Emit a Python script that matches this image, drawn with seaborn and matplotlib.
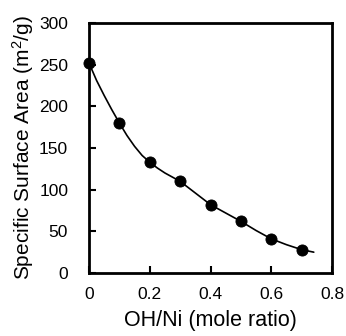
import matplotlib
matplotlib.use("Agg")
import matplotlib.pyplot as plt
import seaborn as sns
import pandas as pd

# measured points
ratio = [0.0, 0.1, 0.2, 0.3, 0.4, 0.5, 0.6, 0.7]
area = [252, 180, 133, 110, 82, 62, 41, 28]

# smooth guide curve
curve_x = [0.0, 0.025, 0.05, 0.075, 0.1, 0.125, 0.15, 0.175, 0.2, 0.225, 0.25, 0.275,
           0.3, 0.35, 0.4, 0.45, 0.5, 0.55, 0.6, 0.65, 0.7, 0.74]
curve_y = [252, 231, 213, 196, 180, 165, 152, 141, 133, 126, 120, 115,
           110, 96, 82, 72, 62, 51, 41, 34, 28, 25]

x_ticks = [0, 0.2, 0.4, 0.6, 0.8]
x_tick_labels = ["0", "0.2", "0.4", "0.6", "0.8"]
y_ticks = [0, 50, 100, 150, 200, 250, 300]

sns.set_style("ticks")
plt.rcParams['font.family'] = ['Liberation Sans', 'DejaVu Sans']
plt.rcParams['mathtext.default'] = 'regular'
plt.rcParams['text.color'] = 'black'
plt.rcParams['axes.labelcolor'] = 'black'
plt.rcParams['xtick.color'] = 'black'
plt.rcParams['ytick.color'] = 'black'

fig = plt.figure(figsize=(3.46, 3.36), dpi=100)
ax = fig.add_axes([89/346, 1 - 273/336, 243/346, 250/336])

df_pts = pd.DataFrame({"x": ratio, "y": area})
df_curve = pd.DataFrame({"x": curve_x, "y": curve_y})

sns.lineplot(data=df_curve, x="x", y="y", ax=ax, color="black", linewidth=1.2)
sns.scatterplot(data=df_pts, x="x", y="y", ax=ax, color="black", s=64,
                edgecolor="black", zorder=5, clip_on=False)

ax.set_xlim(0, 0.8)
ax.set_ylim(0, 300)
ax.set_xticks(x_ticks)
ax.set_xticklabels(x_tick_labels)
ax.set_yticks(y_ticks)
ax.tick_params(direction="in", length=5, width=1.5, labelsize=12.5,
               color="black", labelcolor="black")
ax.tick_params(axis="x", pad=10)
ax.tick_params(axis="y", pad=15)
for s in ax.spines.values():
    s.set_linewidth(2)
    s.set_color("black")

ax.set_xlabel("OH/Ni (mole ratio)", fontsize=15.5, labelpad=6, color="black")
ax.set_ylabel("Specific Surface Area (m$^2$/g)", fontsize=15, labelpad=2, color="black")

fig.savefig("out.png", dpi=100)
